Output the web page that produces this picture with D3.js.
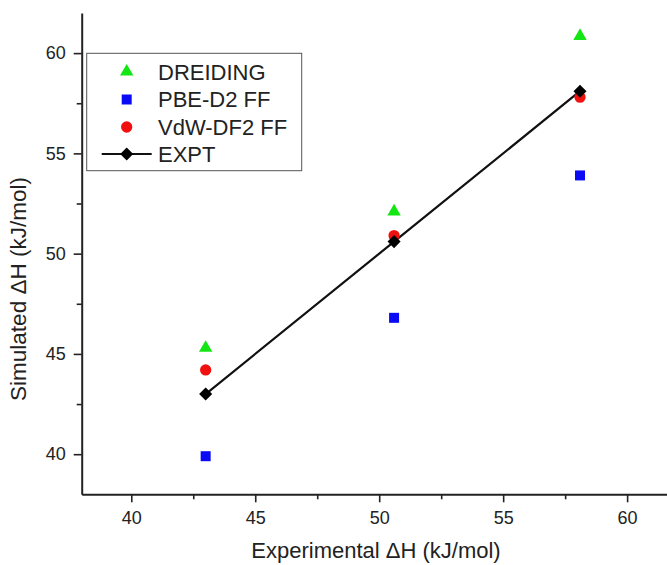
<!DOCTYPE html>
<html>
<head>
<meta charset="utf-8">
<script src="https://cdn.jsdelivr.net/npm/d3@7"></script>
<style>
body { margin: 0; background: #fff; }
svg { display: block; font-family: "Liberation Sans", Arial, sans-serif; }
</style>
</head>
<body>
<div id="chart"></div>
<script>
// data
var expX = [43.0, 50.6, 58.1];          // experimental dH
var dreiding = [45.3, 52.1, 60.85];
var pbeD2 = [39.9, 46.8, 53.9];
var vdwDF2 = [44.2, 50.9, 57.8];
var expt = [43.0, 50.6, 58.1];
var majorTicks = [40, 45, 50, 55, 60];
var minorTicks = [42.5, 47.5, 52.5, 57.5, 62.5];
var legendNames = ["DREIDING", "PBE-D2 FF", "VdW-DF2 FF", "EXPT"];

var w = 667, h = 565;
var ink = "#222";

var svg = d3.select("#chart").append("svg")
  .attr("width", w)
  .attr("height", h);

var x = d3.scaleLinear().domain([38, 62]).range([81.7, 676.7]);
var y = d3.scaleLinear().domain([38, 62]).range([494.3, 13]);

// minor ticks first, then major axes on top
svg.append("g")
  .attr("transform", "translate(0,494.3)")
  .call(d3.axisBottom(x).tickValues(minorTicks).tickSize(5).tickFormat(""))
  .call(function(g) { g.select(".domain").remove(); });
svg.append("g")
  .attr("transform", "translate(81.7,0)")
  .call(d3.axisLeft(y).tickValues(minorTicks.filter(function(d) { return d < 62; })).tickSize(5).tickFormat(""))
  .call(function(g) { g.select(".domain").remove(); });

var gx = svg.append("g")
  .attr("transform", "translate(0,494.3)")
  .call(d3.axisBottom(x).tickValues(majorTicks).tickSize(8).tickSizeOuter(0).tickPadding(9));
var gy = svg.append("g")
  .attr("transform", "translate(81.7,0)")
  .call(d3.axisLeft(y).tickValues(majorTicks).tickSize(8).tickSizeOuter(0).tickPadding(8));

svg.selectAll(".domain").attr("stroke", ink).attr("stroke-width", 2);
svg.selectAll(".tick line").attr("stroke", ink).attr("stroke-width", 1.6);
svg.selectAll(".tick text")
  .attr("fill", ink)
  .attr("font-size", "18px")
  .attr("font-family", "Liberation Sans, Arial, sans-serif");

// axis titles
svg.append("text")
  .attr("x", 376)
  .attr("y", 558)
  .attr("text-anchor", "middle")
  .attr("font-size", "22px")
  .attr("fill", ink)
  .text("Experimental \u0394H (kJ/mol)");

svg.append("text")
  .attr("transform", "translate(26,289) rotate(-90)")
  .attr("text-anchor", "middle")
  .attr("font-size", "22.5px")
  .attr("fill", ink)
  .text("Simulated \u0394H (kJ/mol)");

// EXPT line
var line = d3.line()
  .x(function(d, i) { return x(expX[i]); })
  .y(function(d) { return y(d); });
svg.append("path")
  .datum(expt)
  .attr("d", line)
  .attr("fill", "none")
  .attr("stroke", "#111")
  .attr("stroke-width", 2.2);

var triangle = d3.symbol().type(d3.symbolTriangle).size(78);
var square = d3.symbol().type(d3.symbolSquare).size(100);
var circle = d3.symbol().type(d3.symbolCircle).size(100);
var diamond = d3.symbol().type(d3.symbolSquare).size(85);

var series = [
  { vals: dreiding, sym: triangle, color: "#14e614", rot: 0 },
  { vals: pbeD2, sym: square, color: "#0a0af5", rot: 0 },
  { vals: vdwDF2, sym: circle, color: "#f01010", rot: 0 },
  { vals: expt, sym: diamond, color: "#000", rot: 45 }
];

series.forEach(function(s) {
  svg.append("g").selectAll("path")
    .data(s.vals)
    .enter()
    .append("path")
    .attr("d", s.sym)
    .attr("transform", function(d, i) {
      return "translate(" + x(expX[i]) + "," + y(d) + ") rotate(" + s.rot + ")";
    })
    .attr("fill", s.color);
});

// legend
var lg = svg.append("g");
lg.append("rect")
  .attr("x", 86.7).attr("y", 53.3)
  .attr("width", 215).attr("height", 117.4)
  .attr("fill", "#fff")
  .attr("stroke", "#555")
  .attr("stroke-width", 1);

var rowY = [71.7, 99.5, 127, 154];
lg.append("line")
  .attr("x1", 101.7).attr("x2", 151.7)
  .attr("y1", rowY[3]).attr("y2", rowY[3])
  .attr("stroke", "#111").attr("stroke-width", 2.2);

series.forEach(function(s, i) {
  lg.append("path")
    .attr("d", s.sym)
    .attr("transform", "translate(126.7," + rowY[i] + ") rotate(" + s.rot + ")")
    .attr("fill", s.color);
  lg.append("text")
    .attr("x", 158)
    .attr("y", rowY[i])
    .attr("dy", "0.36em")
    .attr("font-size", "22px")
    .attr("fill", ink)
    .text(legendNames[i]);
});
</script>
</body>
</html>
